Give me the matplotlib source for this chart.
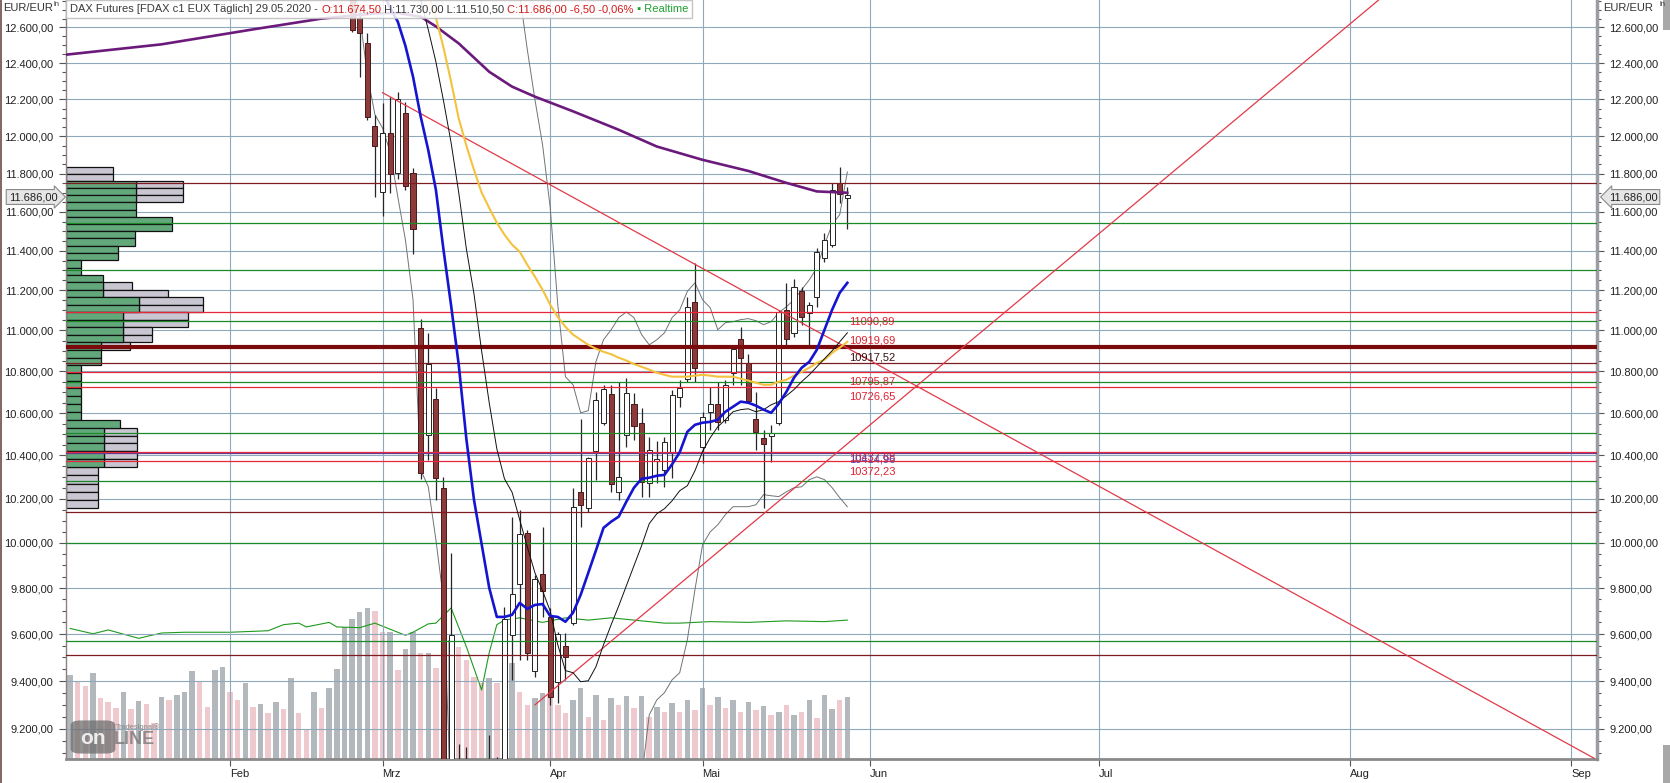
import matplotlib
matplotlib.use('Agg')
import matplotlib.pyplot as plt
import matplotlib.ticker as mticker
import matplotlib.transforms as mtransforms
from matplotlib.patches import Rectangle, FancyBboxPatch
from matplotlib.offsetbox import TextArea, HPacker, AnchoredOffsetbox
import numpy as np
import pandas as pd

plt.rcParams['font.family'] = ['Liberation Sans', 'DejaVu Sans']

# ---------------- data ----------------
holidays = ['2020-01-01', '2020-04-10', '2020-04-13', '2020-05-01']
days = pd.bdate_range('2020-01-02', '2020-05-29')
days = days[~days.isin(pd.to_datetime(holidays))]

# candles from 24.02.2020 to 29.05.2020
candle_start = '2020-02-24'
opens = [13300, 12950, 12655, 12514, 12057,
         11706, 12019, 11806, 12128, 11806, 11012, 10497, 10668, 10251, 8900,
         9050, 8700, 8900, 8450, 8650, 8900, 8800, 9597, 9819, 10046, 9444, 9862,
         9675, 9397, 9550, 9649, 10232, 10160, 10422, 10554, 10692, 10230, 10497,
         10644, 10554, 10274, 10375, 10334, 10410, 10678, 10764, 11141,
         10441, 10606, 10644, 10568, 10793, 10959, 10841, 10573, 10483, 10492,
         10554, 11101, 10987, 11194, 11086, 11167, 11364, 11431, 11752, 11674.5]
highs = [13380, 13060, 12720, 12571, 12117,
         12182, 12215, 12242, 12187, 11830, 11057, 10987, 10721, 10300, 9956,
         9140, 9127, 9050, 9030, 9177, 9085, 9718, 10119, 10151, 10058, 9858, 10073,
         9714, 9610, 9606, 10251, 10573, 10395, 10701, 10735, 10735, 10750, 10769,
         10697, 10625, 10488, 10470, 10488, 10712, 10759, 11164, 11339,
         10606, 10726, 10750, 10759, 10915, 11018, 10883, 10701, 10520, 10545,
         11101, 11237, 11254, 11214, 11141, 11415, 11492, 11752, 11837, 11730]
lows = [12950, 12577, 12325, 12090, 11679,
        11581, 11701, 11770, 11717, 11385, 10290, 10380, 10196, 8800, 8600,
        8400, 8500, 8300, 8250, 8600, 8400, 8750, 9405, 9490, 9490, 9418, 9675,
        9300, 9309, 9405, 9640, 10073, 10138, 10287, 10545, 10230, 10196, 10441,
        10473, 10209, 10209, 10274, 10255, 10297, 10630, 10750, 10750,
        10366, 10520, 10520, 10554, 10735, 10735, 10649, 10427, 10160, 10370,
        10545, 10920, 10968, 11026, 10920, 11117, 11344, 11420, 11648, 11510.5]
closes = [13050, 12588, 12570, 12106, 11950,
          12019, 11801, 12204, 11733, 11514, 10320, 10835, 10297, 8950, 9597,
          8700, 8900, 8450, 8600, 8900, 8700, 9666, 9775, 10041, 9520, 9841, 9788,
          9334, 9601, 9503, 10164, 10173, 10389, 10663, 10716, 10269, 10301, 10697,
          10540, 10278, 10427, 10385, 10464, 10688, 10721, 11118, 10817,
          10582, 10644, 10555, 10735, 10910, 10866, 10658, 10511, 10455, 10506,
          11091, 10959, 11214, 11066, 11127, 11395, 11456, 11716, 11695, 11686]

# indicator lines (one value per trading day from the start date)
blue_start = '2020-02-27'
blue_ma = [13075, 12930, 12804, 12711, 12633, 12497, 12325, 12108, 11926, 11716,
           11405, 11123, 10832, 10478, 10196, 9996, 9801, 9674, 9674, 9683, 9735,
           9709, 9726, 9730, 9678, 9674, 9653, 9692, 9770, 9867, 9966, 10068,
           10096, 10119, 10187, 10251, 10292, 10297, 10306, 10310, 10359, 10415,
           10511, 10544, 10554, 10558, 10568, 10606, 10630, 10654, 10649, 10635,
           10616, 10601, 10644, 10701, 10769, 10817, 10846, 10905, 11003, 11102,
           11187, 11237]
black_start = '2020-03-06'
black_ma = [12903, 12758, 12588, 12408, 12193, 11965, 11701, 11410, 11182, 10900,
            10649, 10431, 10292, 10230, 10105, 9983, 9867, 9788, 9700, 9554, 9444,
            9435, 9397, 9401, 9460, 9554, 9640, 9722, 9810, 9899, 9988, 10087,
            10132, 10155, 10191, 10237, 10260, 10329, 10419, 10483, 10535, 10568,
            10606, 10616, 10620, 10606, 10616, 10639, 10654, 10682, 10712, 10750,
            10783, 10822, 10861, 10900, 10944, 10988]
orange_start = '2020-03-09'
orange_ma = [12931, 12787, 12656, 12487, 12297, 12096, 11950, 11821, 11701, 11621,
             11544, 11482, 11431, 11395, 11328, 11268, 11202, 11128, 11066, 11018,
             10979, 10954, 10929, 10910, 10895, 10883, 10866, 10852, 10835, 10822,
             10808, 10793, 10783, 10774, 10774, 10774, 10779, 10783, 10779, 10774,
             10774, 10774, 10764, 10755, 10745, 10735, 10735, 10750, 10759, 10779,
             10797, 10817, 10841, 10856, 10890, 10915, 10944]
upper_start = '2020-03-26'
upper_band = [12787, 12475, 12199, 11955, 11624, 11127, 10774, 10735, 10601, 10611,
              10846, 10954, 11003, 11063, 11091, 11063, 10979, 10929, 10954, 10988,
              11063, 11101, 11194, 11237, 11152, 11112, 11003, 11038, 11043, 11053,
              11058, 11048, 11028, 11043, 11088, 11117, 11152, 11202, 11252, 11312,
              11431, 11534, 11586, 11810]
lower_start = '2020-02-25'
lower_band = [12873, 12672, 12336, 12117, 12045, 11916, 11680, 11456, 11152, 10334,
              10256, 10015, 9749, 8900, 8600, 8300, 8100, 7900, 7800, 7750, 7750,
              7800, 7850, 7900, 7950, 8000, 8100, 8200, 8300, 8400, 8500, 8600,
              8700, 8750, 8800, 8850, 8900, 8950, 9000, 9258, 9321, 9351, 9405,
              9435, 9575, 9793, 9992, 10050, 10082, 10128, 10164, 10164, 10164,
              10173, 10219, 10214, 10210, 10232, 10251, 10255, 10288, 10301, 10288,
              10251, 10205, 10164]
ma200_dates = ['2020-01-02', '2020-01-21', '2020-02-06', '2020-02-19', '2020-02-28',
               '2020-03-04', '2020-03-09', '2020-03-11', '2020-03-16', '2020-03-20',
               '2020-03-25', '2020-03-30', '2020-04-06', '2020-04-16', '2020-04-23',
               '2020-05-04', '2020-05-12', '2020-05-19', '2020-05-25', '2020-05-29']
ma200 = [12445, 12505, 12589, 12650, 12680, 12682, 12661, 12606, 12510, 12352,
         12270, 12215, 12135, 12035, 11945, 11874, 11815, 11752, 11707, 11700]

# volume (thousand contracts), one bar per trading day; g = grey, p = pink
volume = [95, 111, 103, 96, 113, 80, 75, 67, 88, 66, 76, 72, 47, 82, 78, 84, 88, 116,
          101, 69, 117, 121,
          88, 78, 100, 69, 72, 61, 75, 66, 107, 61, 38, 88, 67, 94, 119,
          174, 184, 194, 199, 195,
          167, 167, 117, 145, 167, 140, 140, 120, 144, 157, 148, 130, 108, 100,
          107, 100, 130, 126, 88, 71, 80, 87,
          84, 71, 61, 78, 94, 55, 84, 51, 80, 71, 83, 67, 83, 55, 69, 62, 74, 62,
          78, 65,
          94, 71, 82, 67, 78, 62, 75, 65, 70, 58, 62, 71, 58, 62, 78, 54, 84, 66,
          78, 82]
volume_kind = ('ggppgpppgpgppgpgggppgg' + 'ppgpgpgpgppgpggggggp' +
               'pgpggpgppgppppgpggppgg' + 'pppggpgpgpgpgpgpgpgp' +
               'gpgpgpgpgpgpgpgpggpg')
green_dates = ['2020-01-03', '2020-01-08', '2020-01-10', '2020-01-16', '2020-01-21',
               '2020-01-24', '2020-02-03', '2020-02-10', '2020-02-12', '2020-02-14',
               '2020-02-17', '2020-02-20', '2020-02-21', '2020-02-26', '2020-02-28',
               '2020-03-05', '2020-03-06', '2020-03-10', '2020-03-11', '2020-03-13',
               '2020-03-17', '2020-03-19', '2020-03-20', '2020-03-23', '2020-03-24',
               '2020-03-26', '2020-03-31', '2020-04-03', '2020-04-08', '2020-04-15',
               '2020-04-20', '2020-04-24', '2020-04-28', '2020-05-05', '2020-05-12',
               '2020-05-19', '2020-05-26', '2020-05-29']
green_line = [172, 165, 170, 159, 166, 167, 167, 169, 177, 179, 174, 180, 174, 173,
              179, 163, 167, 178, 179, 199, 148, 91, 140, 177, 183, 186, 180, 186,
              183, 186, 183, 179, 179, 181, 180, 182, 181, 183]

# volume profile (left): 45 price rows from top to bottom
profile_low, profile_high = 10158, 11836
profile_green = [0, 0, 70, 70, 70, 70, 70, 106, 106, 69, 69, 52, 52, 15, 15, 37, 37,
                 37, 73, 73, 57, 57, 57, 57, 35, 35, 35, 15, 15, 15, 15, 15, 15, 15,
                 54, 38, 38, 38, 38, 38, 0, 0, 0, 0, 0]
profile_total = [47, 47, 117, 117, 117, 70, 70, 106, 106, 69, 69, 52, 52, 15, 15, 37,
                 66, 102, 137, 137, 122, 122, 86, 86, 64, 35, 35, 15, 15, 15, 15, 15,
                 15, 15, 54, 71, 71, 71, 71, 71, 32, 32, 32, 32, 32]

# horizontal levels
red_levels = [11090.89, 10795.87, 10726.65, 10418.0, 10372.23]
maroon_levels = [11750, 10841, 10142, 9512]
green_levels = [11545, 11300, 11044, 10746, 10507, 10281, 10000, 9569]
purple_levels = [10410]
main_level = 10919.69

level_labels = ['11090,89', '10919,69', '10917,52', '10795,87', '10726,65',
                '10437,68', '10414,96', '10372,23']
level_label_values = [11090.89, 10919.69, 10917.52, 10795.87, 10726.65,
                      10418.0, 10410.0, 10372.23]

# trend lines (date, price)
down_trend = [('2020-03-02', 12237), ('2020-09-04', 9080)]
up_trend = [('2020-03-30', 9300), ('2020-08-07', 12766)]

month_dates = ['2020-02-03', '2020-03-02', '2020-04-01', '2020-05-04',
               '2020-06-01', '2020-07-01', '2020-08-03', '2020-09-01']
month_names = ['Feb', 'Mrz', 'Apr', 'Mai', 'Jun', 'Jul', 'Aug', 'Sep']

last_price = '11.686,00'


# ---------------- helpers ----------------
def xpos(d):
    d = pd.Timestamp(d)
    if d <= days[-1]:
        return int(days.searchsorted(d))
    return len(days) - 1 + (d - days[-1]).days


def series_x(start, n):
    i0 = xpos(start)
    return np.arange(i0, i0 + n)


def de_fmt(v, pos=None):
    s = f"{v:,.2f}"
    return s.replace(',', 'X').replace('.', ',').replace('X', '.')


W, H = 1670, 783
L, R, T, B = 66, 1597, 0, 759

fig = plt.figure(figsize=(W / 100, H / 100), dpi=100)
fig.patch.set_facecolor('white')
rect = [L / W, 1 - B / H, (R - L) / W, (B - T) / H]

xlim = (0.46, 201.38)

# volume axis (behind)
axv = fig.add_axes(rect, zorder=0)
axv.set_facecolor('#B8DDF1')
axv.set_xlim(*xlim)
axv.set_ylim(0, 1000)
vx = np.arange(len(volume))
vcol = ['#B3B8BC' if k == 'g' else '#EEC9CD' for k in volume_kind]
axv.bar(vx, volume, width=0.72, color=vcol, linewidth=0)
gx = [xpos(d) for d in green_dates]
axv.plot(gx, green_line, color='#1E9A1E', lw=0.8)
axv.axis('off')

# main price axis
ax = fig.add_axes(rect, zorder=1)
ax.set_facecolor('none')
ax.set_yscale('log')
ax.set_xlim(*xlim)
ax.set_ylim(9077, 12756)

ax.yaxis.set_major_locator(mticker.FixedLocator(np.arange(9200, 12601, 200)))
ax.yaxis.set_minor_locator(mticker.FixedLocator(
    [v for v in np.arange(9100, 12751, 50) if v % 200 != 0]))
ax.yaxis.set_major_formatter(mticker.FuncFormatter(de_fmt))
ax.yaxis.set_minor_formatter(mticker.NullFormatter())
ax.tick_params(axis='y', which='both', left=True, right=True, labelleft=True,
               labelright=True, direction='out', colors='#555555',
               labelcolor='#222222', labelsize=8, pad=4)
ax.tick_params(axis='y', which='major', length=5, width=0.8)
ax.tick_params(axis='y', which='minor', length=3, width=0.8)

mx = [xpos(d) for d in month_dates]
ax.set_xticks(mx)
ax.set_xticklabels(month_names)
ax.tick_params(axis='x', direction='out', length=5, width=0.8, colors='#555555',
               labelcolor='#222222', labelsize=8, pad=2)
for lbl in ax.get_xticklabels():
    lbl.set_horizontalalignment('left')

ax.grid(True, which='major', color='#8FA9BC', lw=0.8, zorder=0)
ax.set_axisbelow(True)
ax.spines['top'].set_visible(False)
ax.spines['left'].set_color('#8C7F7F')
ax.spines['left'].set_linewidth(1)
ax.spines['right'].set_color('#9A9EA2')
ax.spines['right'].set_linewidth(2.5)
ax.spines['bottom'].set_color('#8A8A8A')
ax.spines['bottom'].set_linewidth(2)

# volume profile
ytrans = ax.get_yaxis_transform()
edges = np.linspace(profile_low, profile_high, len(profile_green) + 1)[::-1]
plot_w = R - L
for i, (g, t) in enumerate(zip(profile_green, profile_total)):
    top, bot = edges[i], edges[i + 1]
    if t > g:
        ax.add_patch(Rectangle((g / plot_w, bot), (t - g) / plot_w, top - bot,
                               transform=ytrans, facecolor='#C9C6D1',
                               edgecolor='#111111', lw=0.9, zorder=1))
    if g > 0:
        ax.add_patch(Rectangle((0, bot), g / plot_w, top - bot, transform=ytrans,
                               facecolor='#62A87B', edgecolor='#111111', lw=0.9,
                               zorder=1.1))

# bands
ax.plot(series_x(upper_start, len(upper_band)), upper_band, color='#6F7475', lw=0.7,
        zorder=2)
ax.plot(series_x(lower_start, len(lower_band)), lower_band, color='#6F7475', lw=0.7,
        zorder=2)

# candles
cx = series_x(candle_start, len(opens))
for x, o, h, l, c in zip(cx, opens, highs, lows, closes):
    ax.vlines(x, l, h, color='#262626', lw=0.9, zorder=3)
    up = c >= o
    ax.add_patch(Rectangle((x - 0.33, min(o, c)), 0.66, max(abs(c - o), 4),
                           facecolor='white' if up else '#8C3A3A',
                           edgecolor='#222222' if up else '#4A1818', lw=0.7,
                           zorder=3.2))

# horizontal levels
for v in green_levels:
    ax.axhline(v, color='#1B8A2A', lw=0.9, zorder=4)
for v in maroon_levels:
    ax.axhline(v, color='#7D1C22', lw=0.9, zorder=4)
for v in purple_levels:
    ax.axhline(v, color='#5A3C9A', lw=0.9, zorder=4)
for v in red_levels:
    ax.axhline(v, color='#E8283A', lw=0.9, zorder=4)
ax.axhline(main_level, color='#7A0A0C', lw=3.0, zorder=4.1)

# trend lines
for line in (down_trend, up_trend):
    ax.plot([xpos(d) for d, _ in line], [p for _, p in line], color='#E23A48',
            lw=0.9, zorder=4.2)

# moving averages
ax.plot([xpos(d) for d in ma200_dates], ma200, color='#6B1A7C', lw=1.9, zorder=5,
        solid_joinstyle='round')
ax.plot(series_x(orange_start, len(orange_ma)), orange_ma, color='#F4C23E', lw=1.5,
        zorder=5)
ax.plot(series_x(black_start, len(black_ma)), black_ma, color='#101010', lw=0.7,
        zorder=5)
ax.plot(series_x(blue_start, len(blue_ma)), blue_ma, color='#1515D0', lw=1.9,
        zorder=5.1)

# level labels
label_dy = [9, -6, 10, 9.5, 10, 6, 6, 10]
label_col = ['#E02030', '#E02030', '#3A1010', '#E02030', '#E02030', '#E02030',
             '#6040A0', '#E02030']
lx = xpos(days[-1]) + 0.2
for txt, v, dy, col in zip(level_labels, level_label_values, label_dy, label_col):
    tr = mtransforms.offset_copy(ax.transData, fig=fig, x=0, y=-dy, units='dots')
    ax.text(lx, v, txt, transform=tr, color=col, fontsize=8, va='center',
            ha='left', zorder=6)

# last price markers
yp = 1 - 197 / H
fig.text(33 / W, yp, last_price, ha='center', va='center', fontsize=8,
         color='#222222', zorder=10,
         bbox=dict(boxstyle='rarrow,pad=0.22', fc='#E6E6E6', ec='#8A8A8A', lw=0.8))
fig.text(1633 / W, yp, last_price, ha='center', va='center', fontsize=8,
         color='#222222', zorder=10,
         bbox=dict(boxstyle='larrow,pad=0.22', fc='#E6E6E6', ec='#8A8A8A', lw=0.8))

# axis captions
fig.text(3 / W, 1 - 8 / H, 'EUR/EUR', fontsize=8, va='center', color='#333333')
fig.text(53 / W, 1 - 5 / H, 'ln', fontsize=5.5, va='center', color='#333333')
fig.text(1603 / W, 1 - 8 / H, 'EUR/EUR', fontsize=8, va='center', color='#333333')
fig.text(1659 / W, 1 - 5 / H, 'ln', fontsize=5.5, va='center', color='#333333')

# header
parts = [("DAX Futures [FDAX c1 EUX Täglich] 29.05.2020 - ", '#3A3A3A'),
         ("O:11.674,50", '#D41A1A'),
         (" H:11.730,00 L:11.510,50 ", '#3A3A3A'),
         ("C:11.686,00 -6,50 -0,06%", '#D41A1A'),
         (" \u25aa Realtime", '#1FA031')]
boxes = [TextArea(t, textprops=dict(color=c, fontsize=8)) for t, c in parts]
pack = HPacker(children=boxes, align='baseline', pad=0, sep=0)
anch = AnchoredOffsetbox(loc='upper left', child=pack, pad=0.3, frameon=True,
                         bbox_to_anchor=(L / W, 1.0), bbox_transform=fig.transFigure,
                         borderpad=0)
anch.patch.set_facecolor('white')
anch.patch.set_alpha(0.85)
anch.patch.set_edgecolor('#BBBBBB')
anch.set_zorder(20)
fig.add_artist(anch)

# watermark
fig.add_artist(FancyBboxPatch((74 / W, 1 - 752 / H), 38 / W, 30 / H,
                              boxstyle='round,pad=0.002,rounding_size=0.006',
                              transform=fig.transFigure, facecolor='#6E6E6E',
                              edgecolor='none', alpha=0.75, zorder=8))
fig.text(93 / W, 1 - 738 / H, 'on', fontsize=15, fontweight='bold', color='white',
         ha='center', va='center', alpha=0.85, zorder=9)
fig.text(114 / W, 1 - 739 / H, 'LINE', fontsize=13, fontweight='bold',
         color='#7A7A7A', ha='left', va='center', alpha=0.8, zorder=9)
fig.text(116 / W, 1 - 727 / H, 'Tradesignal\u00ae', fontsize=5, fontweight='bold',
         color='#8A8A8A', ha='left', va='center', alpha=0.8, zorder=9)

# frame bits
fig.add_artist(plt.Line2D([0.5 / W, 0.5 / W], [0, 1], transform=fig.transFigure,
                          color='#6B4C4C', lw=1.2))
fig.add_artist(Rectangle((1663 / W, 1 - 30 / H), 7 / W, 30 / H,
                         transform=fig.transFigure, facecolor='#A8A8A8',
                         edgecolor='none'))
fig.add_artist(Rectangle((1663 / W, 0), 7 / W, 38 / H, transform=fig.transFigure,
                         facecolor='#A8A8A8', edgecolor='none'))

fig.savefig('out.png', dpi=100)
